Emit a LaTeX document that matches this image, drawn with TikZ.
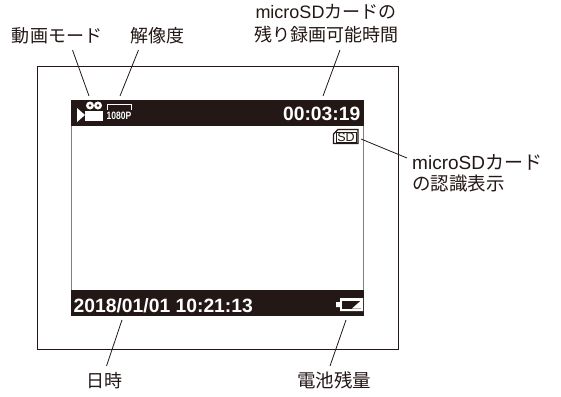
\documentclass[tikz,border=0pt]{standalone}
\usepackage{fontspec}
\setmainfont{Liberation Sans}
\newfontfamily\cjk{Noto Sans CJK JP}
\definecolor{ink}{HTML}{231815}
\begin{document}
\begin{tikzpicture}[x=1pt,y=-1pt,
  lbl/.style={font=\fontsize{18}{22.5}\selectfont,inner sep=0pt,align=center,text=ink},
  lead/.style={draw=ink,line width=0.8pt},
  bar/.style={fill=ink,draw=none},
  bartxt/.style={font=\fontsize{19.3}{22}\selectfont\bfseries,text=white,inner sep=0pt}]
\useasboundingbox (0,0) rectangle (561,396);
\fill[white] (0,0) rectangle (561,396);
\draw[ink,line width=0.9pt] (37.5,66.5) rectangle (398,349.5);
\draw[black!50,line width=1.3pt] (71.5,100.5) rectangle (363.5,315.5);
\fill[bar] (71,100) rectangle (364,126);
\fill[bar] (71,290) rectangle (364,316);
% labels
\node[lbl] (mode) at (57,35.5) {{\cjk 動画モード}};
\node[lbl] (res) at (157.5,35.5) {{\cjk 解像度}};
\node[lbl] (time) at (326,23.5) {microSD{\cjk カードの}\\{\cjk 残り録画可能時間}};
\node[lbl,align=left,anchor=west,font=\fontsize{18.5}{21.5}\selectfont] (sdl) at (412,173.5) {{\fontsize{19}{21.5}\selectfont microSD{\cjk カード}}\\{\cjk の認識表示}};
\node[lbl] (date) at (104,380.5) {{\cjk 日時}};
\node[lbl,font=\fontsize{18.5}{22}\selectfont] (batt) at (334,380.5) {{\cjk 電池残量}};
% bar contents
\node[bartxt,anchor=base east] (clock) at (360.5,120) {00:03:19};
\node[bartxt,anchor=base west] (stamp) at (73.5,312.5) {2018/01/01 10:21:13};
% camera icon
\fill[white] (77,108) -- (85,115) -- (77,122) -- cycle;
\fill[white] (85,111) rectangle (103,120.5);
\fill[white] (90,105.5) circle (4);
\fill[white] (98,105.5) circle (4);
\fill[bar] (90,105.5) circle (1.4);
\fill[bar] (98,105.5) circle (1.4);
% resolution icon
\draw[white,line width=0.9pt] (107.5,110) -- (107.5,104.5) -- (131.5,104.5) -- (131.5,110);
\node[font=\fontsize{10.7}{11}\selectfont\bfseries,text=white,inner sep=0pt,anchor=base,xscale=0.8] (reso) at (119,119.5) {1080P};
% sd icon
\draw[ink,line width=1.1pt,fill=white] (333.5,143.5) -- (333.5,134) -- (338,129.5) -- (358,129.5) -- (358,143.5) -- cycle;
\draw[ink,line width=0.5pt] (336,132) rectangle (356,142);
\node[font=\fontsize{12.5}{13}\selectfont,inner sep=0pt,text=ink] (sd) at (346,137) {SD};
% battery icon
\fill[white] (336,302) -- (340,302) -- (340,298) -- (363,298) -- (363,311) -- (340,311) -- (340,307) -- (336,307) -- cycle;
\fill[bar] (342,300.5) rectangle (361,308.5);
\fill[white] (352,308.5) -- (361,300.5) -- (361,308.5) -- cycle;
% anchors
\coordinate (a1) at (89,96);
\coordinate (a2) at (120,96);
\coordinate (a3) at (323,96);
\coordinate (a4) at (361,139);
\coordinate (a5) at (346,320);
\coordinate (a6) at (122,320);
\coordinate (m1) at (72.5,50);
\coordinate (m2) at (138.5,50);
\coordinate (m3) at (340,50);
\coordinate (m4) at (407,158);
\coordinate (m5) at (330,366);
\coordinate (m6) at (106.5,366);
\draw[lead] (m1) -- (a1);
\draw[lead] (m2) -- (a2);
\draw[lead] (m3) -- (a3);
\draw[lead] (a4) -- (m4);
\draw[lead] (a5) -- (m5);
\draw[lead] (a6) -- (m6);
\end{tikzpicture}
\end{document}
